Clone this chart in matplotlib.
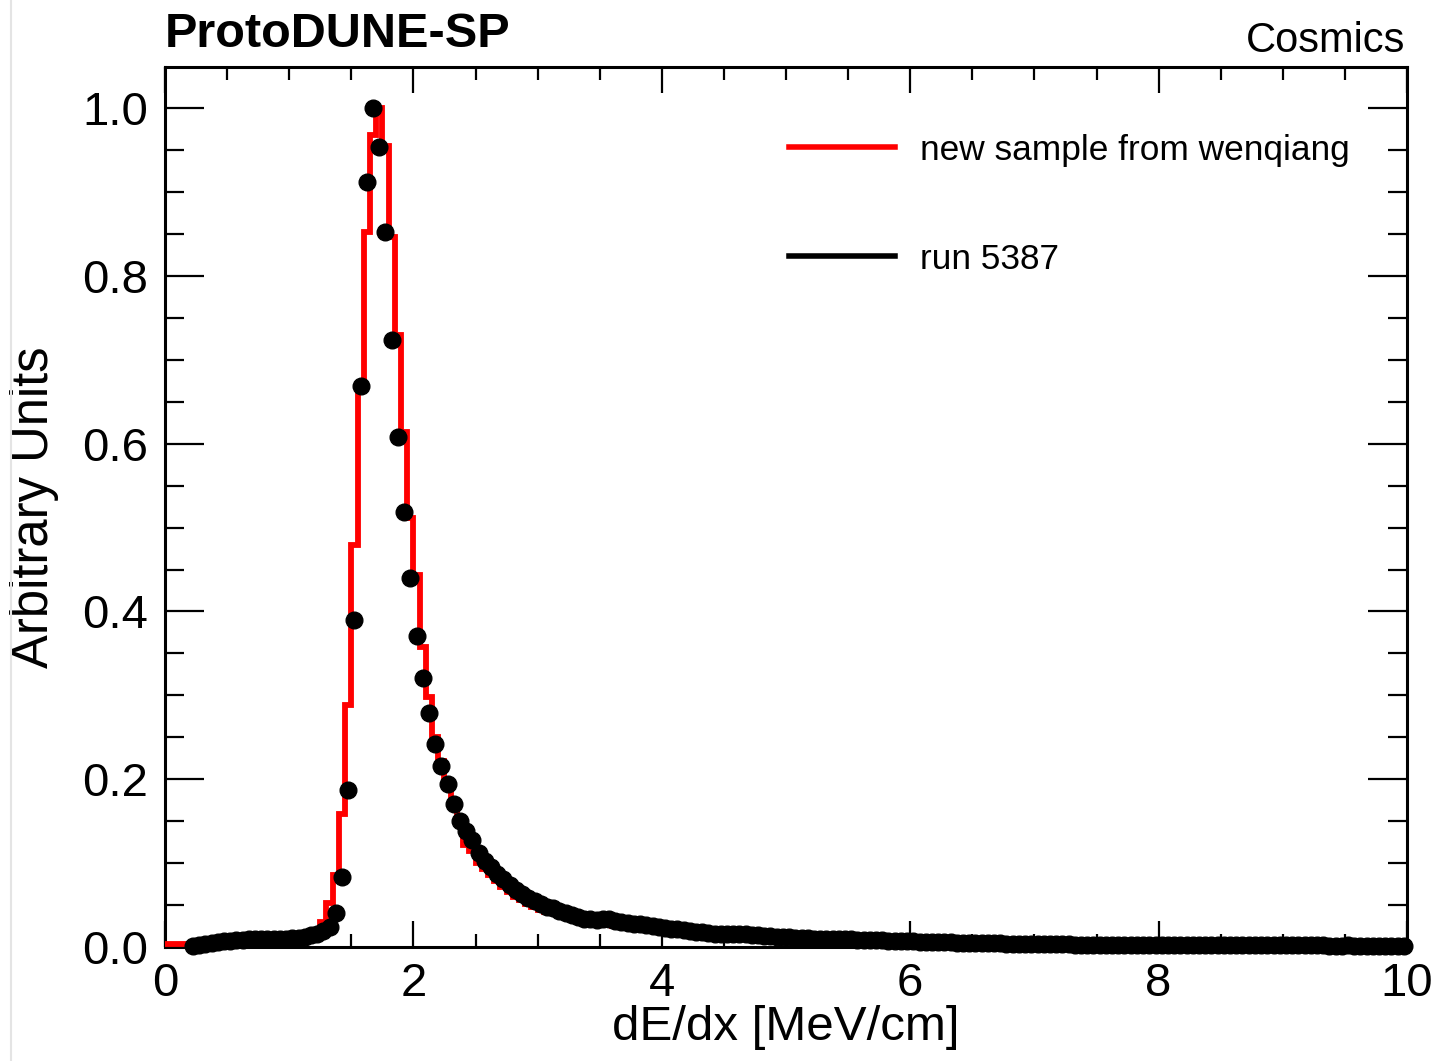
import numpy as np
import matplotlib
matplotlib.use("Agg")
from matplotlib import pyplot as plt
from matplotlib.lines import Line2D
from matplotlib.ticker import MultipleLocator

plt.rcParams['font.family'] = ['Liberation Sans', 'DejaVu Sans']

# dE/dx binning, 0.05 MeV/cm bins from 0 to 10
bin_width = 0.05
edges = np.linspace(0.0, 10.0, 201)
centers = edges[:-1] + bin_width / 2

# red histogram: "new sample from wenqiang" (one value per bin, 0 -> 10)
mc_vals = [
    0.004, 0.004, 0.004, 0.004, 0.004, 0.005, 0.005, 0.006, 0.006, 0.007,
    0.007, 0.007, 0.008, 0.008, 0.008, 0.008, 0.009, 0.009, 0.009, 0.009,
    0.009, 0.010, 0.010, 0.012, 0.018, 0.030, 0.052, 0.086, 0.159, 0.288,
    0.479, 0.665, 0.852, 0.968, 1.000, 0.955, 0.846, 0.729, 0.614, 0.511,
    0.443, 0.358, 0.298, 0.250, 0.222, 0.196, 0.172, 0.150, 0.122, 0.115,
    0.100, 0.093, 0.086, 0.079, 0.072, 0.066, 0.060, 0.056, 0.051, 0.048,
    0.044, 0.042, 0.040, 0.038, 0.036, 0.034, 0.032, 0.031, 0.029, 0.028,
    0.027, 0.026, 0.025, 0.024, 0.023, 0.022, 0.022, 0.021, 0.020, 0.020,
    0.019, 0.018, 0.017, 0.017, 0.016, 0.015, 0.015, 0.014, 0.014, 0.013,
    0.013, 0.012, 0.012, 0.012, 0.011, 0.011, 0.011, 0.010, 0.010, 0.010,
    0.009, 0.009, 0.009, 0.009, 0.008, 0.008, 0.008, 0.008, 0.007, 0.007,
    0.007, 0.007, 0.007, 0.006, 0.006, 0.006, 0.006, 0.006, 0.006, 0.005,
    0.005, 0.005, 0.005, 0.005, 0.005, 0.005, 0.005, 0.005, 0.005, 0.005,
    0.005, 0.004, 0.004, 0.004, 0.004, 0.004, 0.004, 0.004, 0.004, 0.004,
    0.004, 0.004, 0.004, 0.004, 0.004, 0.003, 0.003, 0.003, 0.003, 0.003,
    0.003, 0.003, 0.003, 0.003, 0.003, 0.003, 0.003, 0.003, 0.003, 0.003,
    0.003, 0.003, 0.002, 0.002, 0.002, 0.002, 0.002, 0.002, 0.002, 0.002,
    0.002, 0.002, 0.002, 0.002, 0.002, 0.002, 0.002, 0.002, 0.002, 0.002,
    0.002, 0.002, 0.002, 0.002, 0.002, 0.002, 0.002, 0.002, 0.002, 0.002,
    0.002, 0.002, 0.001, 0.001, 0.001, 0.001, 0.001, 0.001, 0.001, 0.001,
]

# black points: run 5387, first filled bin is 0.20-0.25
first_data_bin = 4
data_vals = [
    0.001, 0.003, 0.004, 0.005, 0.006, 0.007, 0.007, 0.008, 0.008, 0.009,
    0.009, 0.009, 0.010, 0.010, 0.010, 0.010, 0.011, 0.011, 0.012, 0.014,
    0.016, 0.019, 0.024, 0.041, 0.083, 0.187, 0.390, 0.669, 0.912, 1.000,
    0.954, 0.852, 0.723, 0.608, 0.518, 0.440, 0.371, 0.321, 0.279, 0.242,
    0.216, 0.194, 0.171, 0.150, 0.138, 0.127, 0.112, 0.103, 0.095, 0.087,
    0.081, 0.074, 0.068, 0.063, 0.058, 0.055, 0.051, 0.048, 0.046, 0.043,
    0.040, 0.038, 0.036, 0.034, 0.033, 0.032, 0.033, 0.034, 0.031, 0.030,
    0.029, 0.028, 0.027, 0.026, 0.025, 0.024, 0.023, 0.022, 0.021, 0.020,
    0.019, 0.018, 0.018, 0.017, 0.016, 0.016, 0.015, 0.016, 0.016, 0.015,
    0.014, 0.014, 0.013, 0.013, 0.012, 0.012, 0.012, 0.011, 0.011, 0.011,
    0.010, 0.010, 0.010, 0.009, 0.009, 0.009, 0.009, 0.008, 0.008, 0.008,
    0.008, 0.008, 0.007, 0.007, 0.007, 0.007, 0.007, 0.006, 0.006, 0.006,
    0.006, 0.006, 0.006, 0.005, 0.005, 0.005, 0.005, 0.005, 0.005, 0.005,
    0.005, 0.004, 0.004, 0.004, 0.004, 0.004, 0.004, 0.004, 0.004, 0.004,
    0.004, 0.004, 0.003, 0.003, 0.003, 0.003, 0.003, 0.003, 0.003, 0.003,
    0.003, 0.003, 0.003, 0.003, 0.003, 0.003, 0.003, 0.003, 0.002, 0.002,
    0.002, 0.002, 0.002, 0.002, 0.002, 0.002, 0.002, 0.002, 0.002, 0.002,
    0.002, 0.002, 0.002, 0.002, 0.002, 0.002, 0.002, 0.002, 0.002, 0.002,
    0.002, 0.002, 0.002, 0.001, 0.001, 0.001, 0.002, 0.001, 0.001, 0.001,
    0.001, 0.001, 0.001, 0.001, 0.001, 0.001,
]

fig = plt.figure(figsize=(14.35, 10.61), dpi=100)
ax = fig.add_axes([0.115, 0.1074, 0.8655, 0.8295])

ax.stairs(mc_vals, edges, color='red', lw=4.2, baseline=None, zorder=3)
ax.plot(centers[first_data_bin:], data_vals, 'o', color='black', ms=12,
        clip_on=False, zorder=5)

ax.set_xlim(0, 10)
ax.set_ylim(0, 1.049)

ax.xaxis.set_major_locator(MultipleLocator(2))
ax.xaxis.set_minor_locator(MultipleLocator(0.5))
ax.yaxis.set_major_locator(MultipleLocator(0.2))
ax.yaxis.set_minor_locator(MultipleLocator(0.05))
ax.yaxis.set_major_formatter(matplotlib.ticker.FormatStrFormatter('%.1f'))

ax.tick_params(which='both', direction='in', top=True, right=True, width=1.6,
               labelsize=34)
ax.tick_params(axis='x', which='major', length=19, pad=11)
ax.tick_params(axis='x', which='minor', length=9.5)
ax.tick_params(axis='y', which='major', length=28, pad=12)
ax.tick_params(axis='y', which='minor', length=14)
for sp in ax.spines.values():
    sp.set_linewidth(2.2)

ax.set_xlabel('dE/dx [MeV/cm]', fontsize=35.5)
ax.set_ylabel('Arbitrary Units', fontsize=36.5)
ax.xaxis.set_label_coords(0.5, -0.066)
ax.yaxis.set_label_coords(-0.085, 0.5)

handles = [Line2D([], [], color='red', lw=4), Line2D([], [], color='black', lw=4)]
ax.legend(handles, ['new sample from wenqiang', 'run 5387'], loc='upper left',
          bbox_to_anchor=(0.5025, 0.924), frameon=False, fontsize=25.4,
          handlelength=3.0, handletextpad=0.7, labelspacing=2.15,
          borderpad=0, borderaxespad=0)

fig.text(0.115, 0.9557, 'ProtoDUNE-SP', fontsize=35, fontweight='bold',
         ha='left', va='baseline')
fig.text(0.979, 0.951, 'Cosmics', fontsize=30, ha='right', va='baseline')

# faint border of the canvas at the left
fig.add_artist(Line2D([0.008, 0.008], [0.0, 1.0], color='#e4e4e4', lw=1.5))

fig.savefig('out.png', dpi=100)
